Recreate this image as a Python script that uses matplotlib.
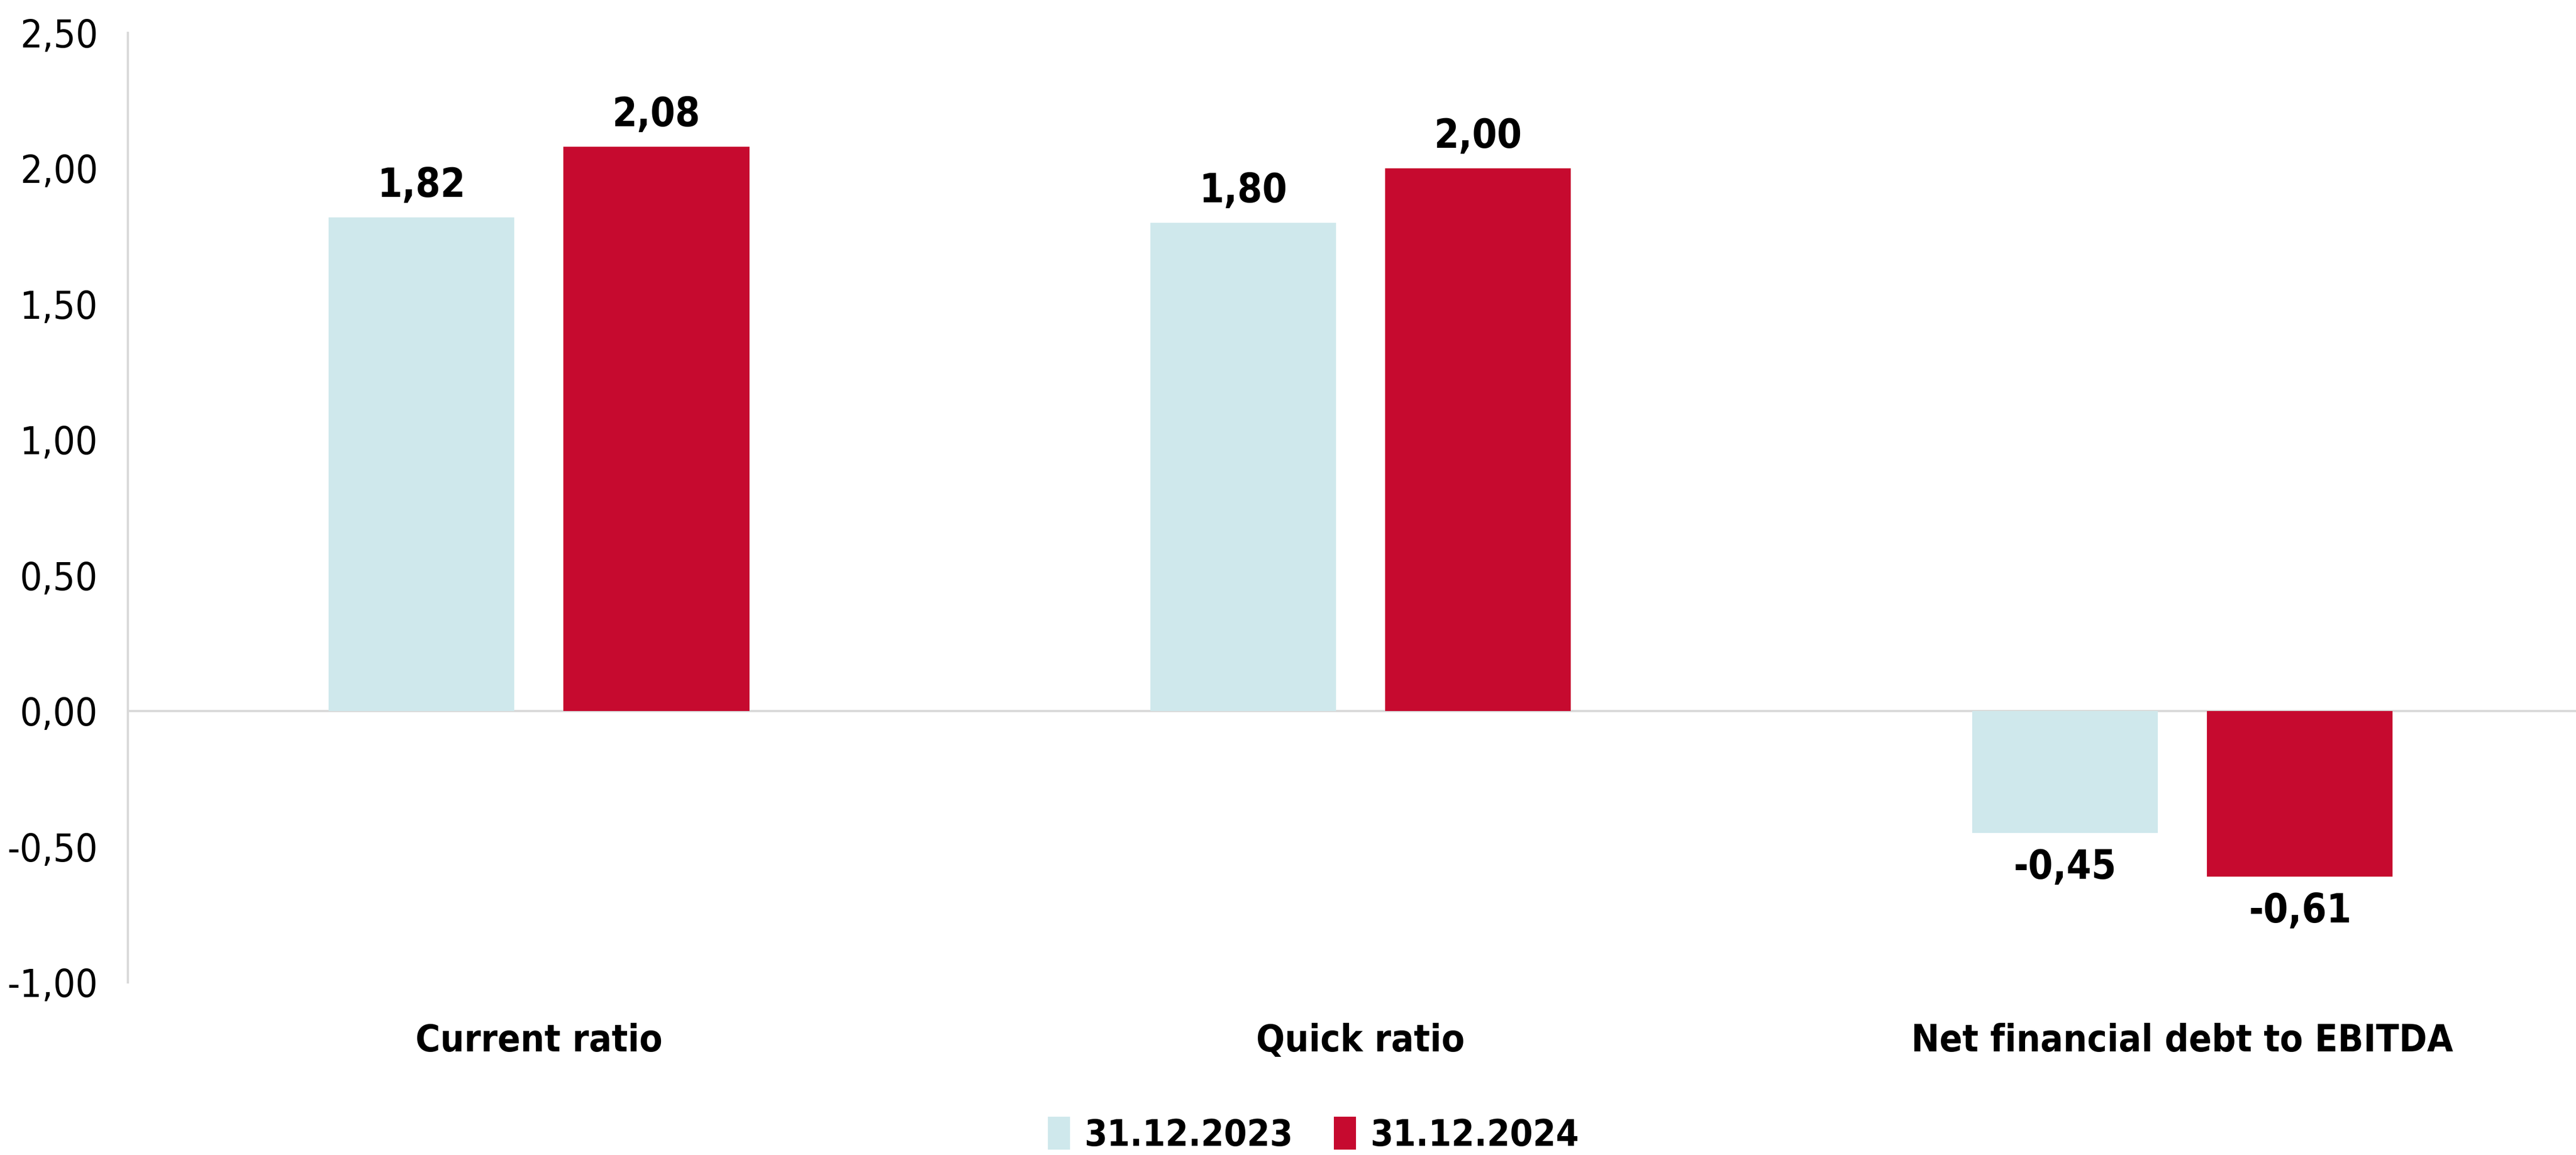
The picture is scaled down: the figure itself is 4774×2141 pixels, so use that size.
import matplotlib
matplotlib.use('Agg')
import matplotlib.pyplot as plt
from matplotlib import font_manager
import numpy as np

categories = ['Current ratio', 'Quick ratio', 'Net financial debt to EBITDA']
series_names = ['31.12.2023', '31.12.2024']
values_2023 = [1.82, 1.80, -0.45]
values_2024 = [2.08, 2.00, -0.61]
y_ticks = [-1.0, -0.5, 0.0, 0.5, 1.0, 1.5, 2.0, 2.5]

colors = ['#CFE8EC', '#C60A2F']

# pick a narrow font if one is installed
names = set(f.name for f in font_manager.fontManager.ttflist)
if 'Liberation Sans Narrow' in names:
    family = 'Liberation Sans Narrow'
    stretch = 'normal'
else:
    family = 'DejaVu Sans'
    stretch = 'condensed'
plt.rcParams['font.family'] = family
plt.rcParams['font.stretch'] = stretch


def fmt(v):
    return ('%.2f' % v).replace('.', ',')


fig = plt.figure(figsize=(23.87, 10.705), dpi=200)
ax = fig.add_axes([0.0497, 0.1495, 0.957, 0.822])

x = np.arange(len(categories))
width = 0.226
offset = 0.143
bars1 = ax.bar(x - offset, values_2023, width, color=colors[0], label=series_names[0], zorder=2)
bars2 = ax.bar(x + offset, values_2024, width, color=colors[1], label=series_names[1], zorder=2)

for bars in (bars1, bars2):
    for b in bars:
        v = b.get_height()
        if v >= 0:
            ax.annotate(fmt(v), (b.get_x() + b.get_width() / 2, v), xytext=(0, 8),
                        textcoords='offset points', ha='center', va='bottom',
                        fontsize=26.5, fontweight='bold')
        else:
            ax.annotate(fmt(v), (b.get_x() + b.get_width() / 2, v), xytext=(0, -10),
                        textcoords='offset points', ha='center', va='top',
                        fontsize=26.5, fontweight='bold')

ax.axhline(0, color='#D9D9D9', linewidth=1.5, zorder=1)
ax.set_xlim(-0.5, 2.5)
ax.set_ylim(-1.0, 2.5)
ax.set_yticks(y_ticks)
ax.set_yticklabels([fmt(t) for t in y_ticks], fontsize=26)
ax.set_xticks(x)
ax.set_xticklabels(categories, fontsize=25, fontweight='bold')
ax.tick_params(axis='y', length=0, pad=20)
ax.tick_params(axis='x', length=0, pad=27)

for s in ['top', 'right', 'bottom']:
    ax.spines[s].set_visible(False)
ax.spines['left'].set_color('#D9D9D9')
ax.spines['left'].set_linewidth(1.5)

fig.legend(loc='center', bbox_to_anchor=(0.510, 0.0173), ncol=2, frameon=False,
           prop={'size': 24.5, 'weight': 'bold'}, handlelength=0.6, handleheight=1.0,
           handletextpad=0.4, columnspacing=1.1)

plt.savefig('out.png', dpi=200)
